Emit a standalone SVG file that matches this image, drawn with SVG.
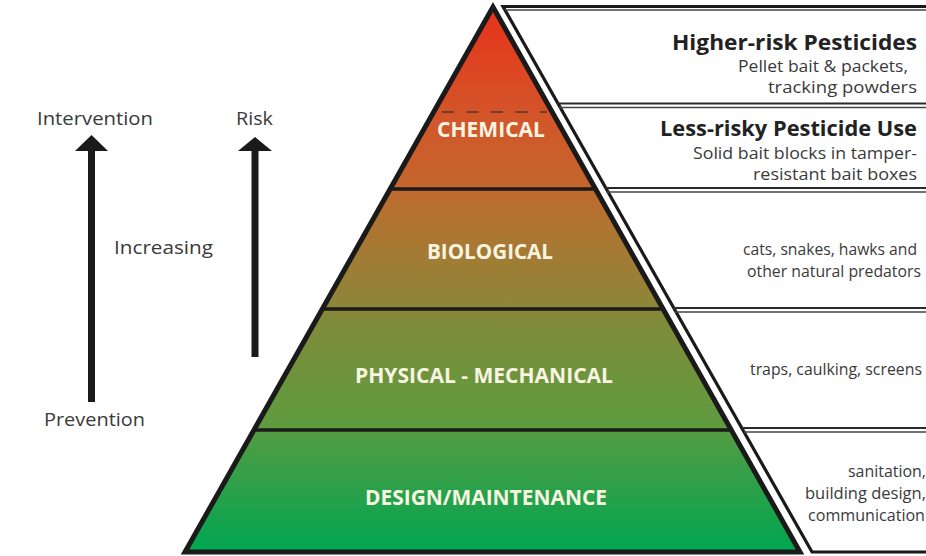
<svg xmlns="http://www.w3.org/2000/svg" width="926" height="556" viewBox="0 0 926 556">
  <defs>
    <linearGradient id="pyr" gradientUnits="userSpaceOnUse" x1="0" y1="7" x2="0" y2="552">
      <stop offset="0" stop-color="#e6321c"/>
      <stop offset="0.12" stop-color="#dc4723"/>
      <stop offset="0.22" stop-color="#d1582a"/>
      <stop offset="0.33" stop-color="#c3662d"/>
      <stop offset="0.36" stop-color="#b96f30"/>
      <stop offset="0.55" stop-color="#8d8738"/>
      <stop offset="0.58" stop-color="#7f8b3a"/>
      <stop offset="0.77" stop-color="#5e9c3f"/>
      <stop offset="0.79" stop-color="#4f9c44"/>
      <stop offset="1" stop-color="#00a651"/>
    </linearGradient>
    <style>
      .lbl { font-family: "Open Sans", "Liberation Sans", sans-serif; font-weight: bold; font-size: 21px; fill: #f8f4e2; text-anchor: middle; }
      .side { font-family: "Open Sans", "Liberation Sans", sans-serif; font-size: 18px; fill: #3a3a3a; }
      .head { font-family: "Open Sans", "Liberation Sans", sans-serif; font-weight: bold; font-size: 21px; fill: #222; text-anchor: end; }
      .desc { font-family: "Open Sans", "Liberation Sans", sans-serif; font-size: 15.5px; fill: #3a3a3a; text-anchor: end; }
      .div { stroke: #1a1a1a; stroke-width: 3.5; fill: none; }
      .boxline { stroke: #2a2a2a; stroke-width: 2.2; fill: none; }
      .boxline2 { stroke: #444; stroke-width: 1.3; fill: none; }
      .arrow { fill: #1a1a1a; }
    </style>
  </defs>
  <rect width="926" height="556" fill="#ffffff"/>

  <g id="arrows">
    <g id="intervention-arrow">
      <rect class="arrow" x="88" y="148" width="7" height="254"/>
      <polygon class="arrow" points="91.5,135 75,151 108,151"/>
    </g>
    <g id="risk-arrow">
      <rect class="arrow" x="251.5" y="148" width="7" height="209"/>
      <polygon class="arrow" points="255,137 238,151 272,151"/>
    </g>
    <text class="side" x="37" y="125" textLength="116" lengthAdjust="spacingAndGlyphs">Intervention</text>
    <text class="side" x="236" y="125" textLength="37" lengthAdjust="spacingAndGlyphs">Risk</text>
    <text class="side" x="114" y="254" textLength="99" lengthAdjust="spacingAndGlyphs">Increasing</text>
    <text class="side" x="44" y="426" textLength="101" lengthAdjust="spacingAndGlyphs">Prevention</text>
  </g>

  <g id="pyramid">
    <polygon points="493,7 185,552 800,552" fill="url(#pyr)" stroke="#1a1a1a" stroke-width="5" stroke-linejoin="miter"/>
    <line class="div" x1="390" y1="189" x2="596" y2="189"/>
    <line class="div" x1="322" y1="309" x2="663" y2="309"/>
    <line class="div" x1="254" y1="430" x2="731" y2="430"/>
    <line x1="442" y1="112" x2="547" y2="112" stroke="#4a3a30" stroke-width="1.6" stroke-dasharray="12 12.5"/>
  </g>

  <g id="layer-chemical">
    <text class="lbl" x="491" y="137" textLength="108" lengthAdjust="spacingAndGlyphs">CHEMICAL</text>
  </g>
  <g id="layer-biological">
    <text class="lbl" x="490" y="259" textLength="126" lengthAdjust="spacingAndGlyphs">BIOLOGICAL</text>
  </g>
  <g id="layer-physical">
    <text class="lbl" x="484" y="383" textLength="258" lengthAdjust="spacingAndGlyphs">PHYSICAL - MECHANICAL</text>
  </g>
  <g id="layer-design">
    <text class="lbl" x="486" y="505" textLength="242" lengthAdjust="spacingAndGlyphs">DESIGN/MAINTENANCE</text>
  </g>

  <g id="boxes">
    <path d="M926,6.5 L503,6.5 L812,552 L926,552" fill="none" stroke="#1a1a1a" stroke-width="3.2" stroke-linejoin="miter"/>
    <line class="boxline2" x1="505" y1="10" x2="926" y2="10"/>
    <line class="boxline" x1="557" y1="103.5" x2="926" y2="103.5"/>
    <line class="boxline2" x1="559" y1="107.5" x2="926" y2="107.5"/>
    <line class="boxline" x1="605" y1="188" x2="926" y2="188"/>
    <line class="boxline2" x1="607" y1="192" x2="926" y2="192"/>
    <line class="boxline" x1="673" y1="308" x2="926" y2="308"/>
    <line class="boxline2" x1="675" y1="312" x2="926" y2="312"/>
    <line class="boxline" x1="742" y1="428" x2="926" y2="428"/>
    <line class="boxline2" x1="744" y1="432" x2="926" y2="432"/>
  </g>

  <g id="box-higher-risk">
    <text class="head" x="917" y="50" textLength="245" lengthAdjust="spacingAndGlyphs">Higher-risk Pesticides</text>
    <text class="desc" x="908" y="72" textLength="170" lengthAdjust="spacingAndGlyphs">Pellet bait &amp; packets,</text>
    <text class="desc" x="917" y="93" textLength="149" lengthAdjust="spacingAndGlyphs">tracking powders</text>
  </g>
  <g id="box-less-risky">
    <text class="head" x="917" y="136" textLength="257" lengthAdjust="spacingAndGlyphs">Less-risky Pesticide Use</text>
    <text class="desc" x="917" y="159" textLength="224" lengthAdjust="spacingAndGlyphs">Solid bait blocks in tamper-</text>
    <text class="desc" x="917" y="180" textLength="164" lengthAdjust="spacingAndGlyphs">resistant bait boxes</text>
  </g>
  <g id="box-biological">
    <text class="desc" x="917" y="255" textLength="174" lengthAdjust="spacingAndGlyphs">cats, snakes, hawks and</text>
    <text class="desc" x="921" y="277" textLength="174" lengthAdjust="spacingAndGlyphs">other natural predators</text>
  </g>
  <g id="box-physical">
    <text class="desc" x="922" y="375" textLength="172" lengthAdjust="spacingAndGlyphs">traps, caulking, screens</text>
  </g>
  <g id="box-design">
    <text class="desc" x="926" y="477" textLength="78" lengthAdjust="spacingAndGlyphs">sanitation,</text>
    <text class="desc" x="926" y="499" textLength="121" lengthAdjust="spacingAndGlyphs">building design,</text>
    <text class="desc" x="925" y="521" textLength="117" lengthAdjust="spacingAndGlyphs">communication</text>
  </g>
</svg>
